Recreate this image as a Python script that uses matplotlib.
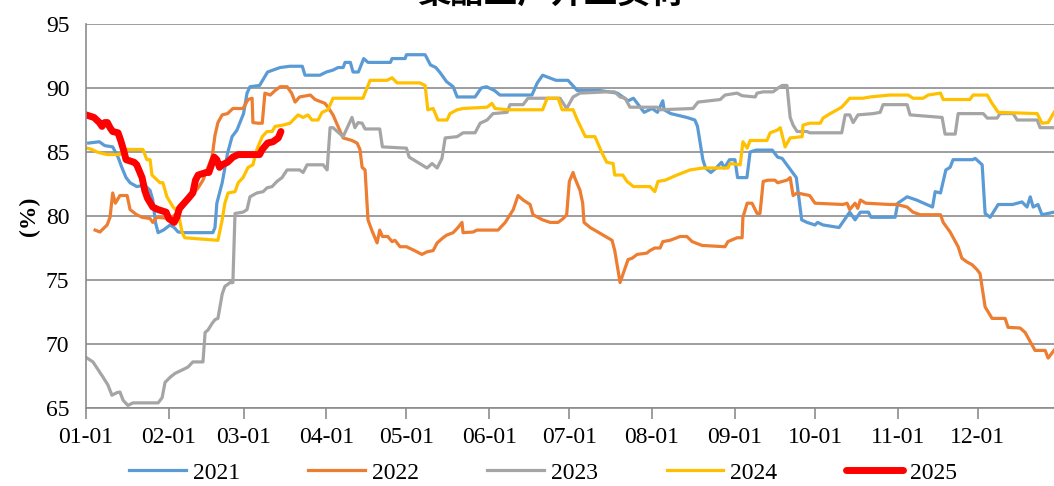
import numpy as np
import matplotlib.pyplot as plt

plt.rcParams['font.family'] = ['Liberation Serif', 'Noto Sans CJK SC']

# Colours (Office palette)
blue = '#5B9BD5'
orange = '#ED7D31'
grey = '#A5A5A5'
gold = '#FFC000'
red = '#FF0000'

# x = day of year (0 = 01-01), y = operating load in %
day_2021 = [1, 5, 7, 10, 12, 13.5, 15, 16.5, 19, 22, 24, 25, 26, 27, 29, 31.5, 33, 34.5, 37, 47.5,
            48.3, 49, 51, 53, 54.7, 56.5, 59, 60.3, 61.4, 65, 67, 68, 72.7, 76.4, 81, 82, 87.6, 90, 92.5,
            94.4, 96.3, 97, 99, 100, 102, 104, 105.6, 114, 114.6, 119.5, 120, 127, 129, 131, 132.6, 135,
            137.5, 139, 145.7, 148, 150, 153, 155, 167, 169, 171, 176, 180.5, 184, 192.5, 199, 201, 203,
            205, 209, 212, 214, 216, 216.5, 219, 225, 228, 229, 231, 232, 234, 236, 238, 239, 241, 243,
            244, 247.5, 248.7, 251, 257, 259, 260.7, 266, 268, 270, 273, 274, 276, 282, 284, 286, 288,
            290, 293, 294, 303, 304, 307.5, 311, 317, 318, 320, 322, 323.6, 324.7, 332, 333, 335.6,
            336.7, 338.6, 341.6, 347, 350.5, 352.4, 353.6, 354.7, 356.5, 358, 362.5]
val_2021 = [85.7, 85.8, 85.5, 85.4, 84.6, 83.75, 83.0, 82.6, 82.3, 82.4, 82.0, 81.25, 79.5, 78.7, 78.9,
            79.3, 79.1, 78.75, 78.7, 78.7, 79.1, 81.0, 82.6, 84.9, 86.2, 86.7, 88.0, 89.6, 90.1, 90.2,
            90.9, 91.25, 91.6, 91.7, 91.7, 91.0, 91.0, 91.25, 91.4, 91.6, 91.6, 92.0, 92.0, 91.25, 91.25,
            92.3, 92.0, 92.0, 92.3, 92.3, 92.6, 92.6, 91.8, 91.6, 91.2, 90.5, 90.1, 89.3, 89.3, 90.0,
            90.1, 89.8, 89.45, 89.45, 90.4, 91.0, 90.6, 90.6, 89.8, 89.8, 89.6, 89.3, 89.0, 89.2, 88.1,
            88.4, 88.1, 89.0, 88.3, 88.0, 87.7, 87.5, 87.0, 84.4, 83.75, 83.4, 83.75, 84.2, 83.75, 84.4,
            84.4, 83.0, 83.0, 85.0, 85.15, 85.15, 84.6, 84.5, 83.0, 79.7, 79.5, 79.3, 79.5, 79.3, 79.1,
            79.7, 80.3, 79.7, 80.3, 80.3, 79.9, 79.9, 81.0, 81.5, 81.25, 80.7, 81.9, 81.8, 83.6, 83.8,
            84.4, 84.4, 84.5, 84.0, 80.2, 79.9, 80.9, 80.9, 81.1, 80.7, 81.5, 80.7, 80.9, 80.1, 80.3]

day_2022 = [3.4, 5.2, 7.9, 9, 10, 11, 12.7, 15.4, 16.5, 19, 21, 24, 25, 26.6, 31.5, 34, 36, 39, 40.8,
            42, 43.8, 45.7, 47.2, 48.3, 49.4, 51, 53, 55, 58.8, 60.7, 62.2, 62.5, 64.4, 66, 67, 69, 70.8,
            72.7, 75.3, 77, 78.3, 80, 84, 85.8, 89.5, 90.6, 92.5, 95, 96.3, 99.6, 101.5, 102.6, 103.4,
            104.5, 105.6, 107, 109, 110, 111, 113, 114.6, 115.7, 117.6, 120, 123, 125.8, 127.7, 130,
            131.5, 133.7, 135, 137.5, 139.3, 140.8, 141.2, 145, 146.4, 154.3, 157, 158.8, 160, 161.8,
            163.7, 166.3, 167.4, 171, 173.8, 176.8, 178.7, 180, 181, 182.4, 183, 185, 186, 186.5, 188.8,
            197, 198, 200, 203, 204.5, 206.4, 210, 211.2, 213, 215, 216, 218.7, 222.5, 225, 227, 230.7,
            239.3, 240.4, 243.8, 245.7, 246, 247.6, 249.4, 251.3, 252.4, 253.6, 255.4, 258, 259, 262.5,
            263.7, 264.8, 266.3, 271, 273, 283.5, 285, 286, 288, 289, 290, 292, 301, 303.7, 307.5, 309.7,
            312.4, 320, 321, 323.6, 326.6, 328, 330, 331.8, 333.7, 334.8, 336.7, 339.3, 344.2, 345.3,
            349.8, 351.7, 355.4, 359.2, 360.3, 362.5]
val_2022 = [78.9, 78.75, 79.3, 79.9, 81.8, 81.0, 81.6, 81.6, 80.5, 80.1, 79.9, 79.8, 79.5, 79.9, 79.8,
            80.2, 80.6, 81.5, 81.9, 82.2, 82.8, 83.8, 84.6, 86.3, 87.3, 87.9, 88.0, 88.4, 88.4, 89.1,
            89.2, 87.3, 87.25, 87.25, 89.6, 89.45, 89.8, 90.1, 90.1, 89.6, 88.9, 89.3, 89.45, 89.1, 88.8,
            88.5, 87.9, 86.7, 86.1, 85.9, 85.7, 85.2, 83.8, 83.6, 79.7, 78.9, 77.9, 78.9, 78.4, 78.4,
            78.0, 78.1, 77.6, 77.6, 77.3, 77.0, 77.2, 77.3, 77.9, 78.3, 78.5, 78.7, 79.1, 79.5, 78.7,
            78.75, 78.9, 78.9, 79.5, 80.1, 80.5, 81.6, 81.25, 80.9, 80.1, 79.7, 79.5, 79.5, 79.8, 80.1,
            82.7, 83.4, 83.0, 82.0, 81.0, 79.5, 79.1, 78.1, 77.3, 74.8, 76.6, 76.7, 77.0, 77.1, 77.3,
            77.5, 77.5, 78.0, 78.1, 78.4, 78.4, 78.0, 77.7, 77.6, 78.0, 78.3, 78.3, 79.9, 81.0, 81.0,
            80.2, 80.2, 82.7, 82.8, 82.8, 82.6, 82.8, 83.0, 81.6, 81.8, 81.6, 81.0, 80.9, 81.0, 80.5,
            81.0, 80.6, 81.25, 81.0, 80.9, 80.9, 80.7, 80.3, 80.1, 80.1, 79.5, 78.75, 77.6, 76.7, 76.4,
            76.2, 75.8, 75.5, 72.9, 72.0, 72.0, 71.3, 71.25, 70.9, 69.5, 69.5, 68.9, 69.5]

day_2023 = [0.4, 2.6, 4.5, 6.4, 8.2, 9.7, 11.6, 12.7, 13.9, 15.7, 17.6, 27, 28.5, 29.6, 31.5, 33.3,
            36.3, 38.2, 40, 43.8, 44.6, 45.7, 47.2, 48.3, 49.4, 51, 52, 54, 55, 55.8, 58.8, 60.3, 61.4,
            64, 66.3, 67.8, 69.7, 71.5, 73.4, 75.3, 80, 81.3, 82.8, 88.8, 90.3, 91.4, 92.5, 96.3, 99.6,
            100.7, 101.9, 103.4, 104.5, 110, 111, 120, 121, 127.7, 129.6, 131.5, 133.3, 134.5, 139,
            141.2, 145.7, 147.6, 150.2, 152.4, 157.7, 158.8, 163.7, 165.5, 177.5, 180, 182.4, 185, 195,
            198, 200, 201.9, 203.7, 213.9, 215, 227.3, 229.2, 237.5, 239.3, 243.8, 245.7, 250.6, 251.3,
            253.6, 257.3, 259.2, 260.7, 262.5, 263.7, 264.8, 266.3, 270, 271, 283, 284.3, 286, 287.3,
            289.1, 294.8, 297.4, 298.5, 307.5, 308.6, 320.6, 321.7, 325.5, 326.6, 336, 337.5, 341.2,
            342.3, 347.2, 348.7, 356.2, 357.3, 362.5]
val_2023 = [68.9, 68.6, 68.0, 67.4, 66.8, 66.0, 66.2, 66.25, 65.6, 65.2, 65.4, 65.4, 65.8, 67.0, 67.4,
            67.7, 68.0, 68.2, 68.6, 68.6, 70.9, 71.1, 71.6, 71.9, 72.0, 73.9, 74.5, 74.8, 74.8, 80.2,
            80.3, 80.5, 81.5, 81.8, 81.9, 82.2, 82.3, 82.7, 83.0, 83.6, 83.6, 83.4, 84.0, 84.0, 83.6,
            86.9, 86.9, 86.2, 87.7, 86.9, 87.3, 87.25, 86.8, 86.8, 85.4, 85.3, 84.6, 83.75, 84.1, 83.75,
            84.5, 86.1, 86.2, 86.5, 86.5, 87.25, 87.5, 88.0, 88.1, 88.7, 88.7, 89.2, 89.2, 88.4, 89.3,
            89.6, 89.7, 89.7, 89.3, 89.2, 88.5, 88.5, 88.3, 88.4, 88.9, 89.1, 89.45, 89.6, 89.4, 89.3,
            89.6, 89.7, 89.7, 90.0, 90.2, 90.2, 87.7, 87.1, 86.6, 86.6, 86.5, 86.5, 87.9, 87.9, 87.3,
            87.9, 88.0, 88.1, 88.7, 88.7, 87.9, 87.7, 86.4, 86.4, 88.0, 88.0, 87.65, 87.65, 88.0, 88.0,
            87.5, 87.5, 86.9, 86.9]

day_2024 = [0.4, 2.2, 4.1, 7.9, 12.7, 15.4, 21.3, 22.8, 24, 24.7, 27.7, 28.8, 30.3, 32.6, 34.5, 36, 37,
            49.4, 51, 52, 53.2, 55.8, 57, 58.8, 60.7, 62.5, 64, 66, 67.8, 69.7, 70.8, 73.8, 76.4, 79.4,
            81.3, 83.1, 84.6, 86.9, 88.4, 90.6, 92.5, 103.7, 106.4, 112.7, 114.6, 116.5, 125, 127, 128,
            130, 131.8, 135.2, 136.3, 139, 141.2, 150.2, 152, 153.2, 158, 171, 172.7, 176.8, 178.3,
            182.4, 184, 187, 190.6, 193.3, 195, 197.4, 198, 201, 202.6, 205, 211.2, 213, 214.2, 216.9,
            221.3, 226.2, 231, 240.4, 241.2, 245, 246, 247.6, 248.7, 255, 256.2, 258.8, 260, 261.8,
            263.7, 268.2, 268.5, 271, 275, 276, 278.7, 283, 286, 291, 293.6, 301, 307.9, 309.7, 313.5,
            315.4, 320, 321, 331, 332.2, 337.5, 339.3, 341.6, 356.2, 358, 360.3, 362.5]
val_2024 = [85.3, 85.2, 85.0, 84.8, 84.8, 85.2, 85.2, 84.4, 84.4, 83.2, 82.6, 82.6, 81.5, 80.7, 80.3,
            78.7, 78.3, 78.1, 79.7, 81.0, 81.8, 81.9, 82.6, 83.0, 83.8, 84.0, 85.2, 86.2, 86.6, 86.6,
            87.0, 87.1, 87.25, 87.9, 87.7, 87.9, 87.5, 87.5, 88.1, 88.3, 89.2, 89.2, 90.6, 90.6, 90.8,
            90.4, 90.4, 90.2, 88.3, 88.4, 87.5, 87.5, 88.0, 88.3, 88.4, 88.5, 88.8, 88.4, 88.3, 88.3,
            89.2, 89.2, 88.3, 88.3, 87.5, 86.2, 86.2, 84.9, 84.2, 84.1, 83.2, 83.2, 82.7, 82.3, 82.3,
            81.9, 82.7, 82.8, 83.2, 83.6, 83.75, 83.75, 84.1, 84.0, 85.8, 85.3, 85.9, 85.9, 86.5, 86.7,
            86.9, 85.4, 86.1, 86.2, 87.1, 87.25, 87.25, 87.65, 88.0, 88.5, 89.2, 89.2, 89.3, 89.45,
            89.45, 89.2, 89.2, 89.45, 89.6, 89.1, 89.1, 89.45, 89.45, 88.8, 88.1, 88.0, 87.25, 87.3, 88.1]

day_2025 = [0, 3, 5, 6, 7, 8, 9, 10, 12, 13, 14, 15, 18, 19, 21, 22, 23, 25, 27, 30, 31, 33, 34, 35,
            38, 40, 41, 42, 45, 46, 48, 49, 50, 51, 53, 55, 57, 60, 63, 65, 66, 68, 70, 72, 73]
val_2025 = [87.9, 87.7, 87.3, 87.0, 87.3, 87.3, 86.9, 86.6, 86.5, 85.9, 85.2, 84.4, 84.2, 84.0, 83.0,
            82.0, 81.4, 80.7, 80.5, 80.3, 79.8, 79.5, 79.9, 80.6, 81.3, 81.8, 82.8, 83.2, 83.4, 83.4,
            84.6, 84.4, 83.8, 84.0, 84.2, 84.6, 84.8, 84.8, 84.8, 84.8, 85.2, 85.7, 85.8, 86.1, 86.6]

month_days = [0, 31, 59, 90, 120, 151, 181, 212, 243, 273, 304, 334]
month_labels = ['01-01', '02-01', '03-01', '04-01', '05-01', '06-01',
                '07-01', '08-01', '09-01', '10-01', '11-01', '12-01']

fig = plt.figure(figsize=(10.54, 4.86), dpi=100)
ax = fig.add_axes([0.0816, 0.1605, 0.9184, 0.7901])

ax.plot(day_2021, val_2021, color=blue, linewidth=2.3, label='2021')
ax.plot(day_2022, val_2022, color=orange, linewidth=2.3, label='2022')
ax.plot(day_2023, val_2023, color=grey, linewidth=2.3, label='2023')
ax.plot(day_2024, val_2024, color=gold, linewidth=2.3, label='2024')
ax.plot(day_2025, val_2025, color=red, linewidth=5.0, label='2025', solid_capstyle='round')

ax.set_xlim(0, 362.5)
ax.set_ylim(65, 95)
ax.set_yticks(np.arange(65, 96, 5))
ax.set_xticks(month_days)
ax.set_xticklabels(month_labels)
ax.grid(True, axis='y', color='#8C8C8C', linewidth=1.2)
ax.set_axisbelow(True)

for side in ['top', 'right']:
    ax.spines[side].set_visible(False)
for side in ['left', 'bottom']:
    ax.spines[side].set_color('#8C8C8C')
    ax.spines[side].set_linewidth(1.2)

ax.tick_params(axis='x', direction='out', length=8, width=1.2, color='#8C8C8C',
               labelsize=17, pad=6)
ax.tick_params(axis='y', length=0, labelsize=17, pad=12)

ax.set_ylabel('(%)', fontsize=17, fontweight='bold', labelpad=4)

fig.text(0.522, 1 - 10 / 486, '聚酯工厂开工负荷', ha='center', va='bottom',
         fontsize=24, family=['Noto Sans CJK SC'], fontweight='bold')

fig.legend(loc='center', bbox_to_anchor=(0.515, 0.027), ncol=5, frameon=False,
           fontsize=17, handlelength=2.4, handletextpad=0.3, columnspacing=2.9)

fig.savefig('out.png', dpi=100)
